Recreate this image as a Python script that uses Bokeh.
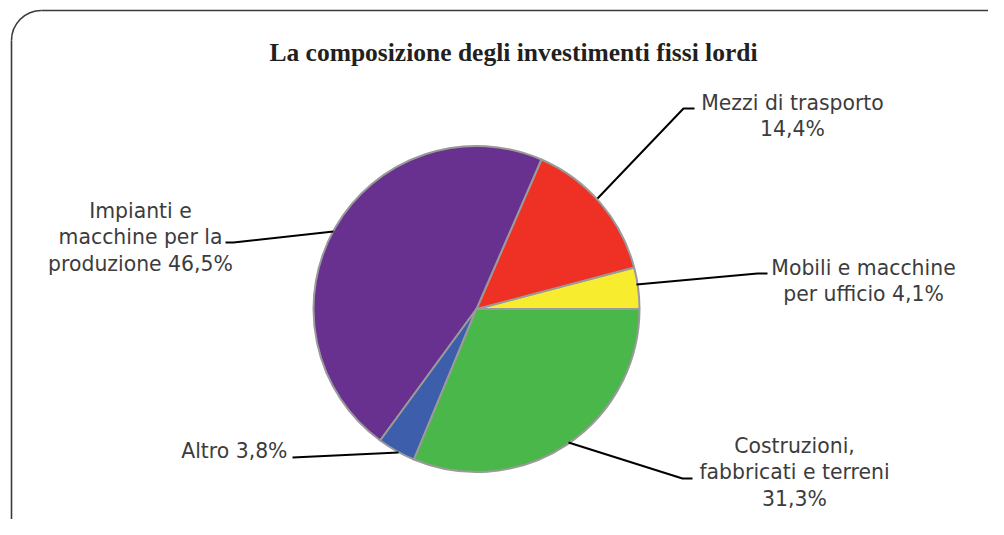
import math
from bokeh.plotting import figure
from bokeh.models import Range1d, ColumnDataSource
from bokeh.core.properties import value
from bokeh.embed import file_html
from bokeh.resources import INLINE

# ---- data (anticlockwise from 3 o'clock) ----
categories = ["Mobili e macchine per ufficio", "Mezzi di trasporto",
              "Impianti e macchine per la produzione", "Altro",
              "Costruzioni, fabbricati e terreni"]
shares = [4.1, 14.4, 46.5, 3.8, 31.3]
colors = ["#f7ec2d", "#ee3124", "#68308f", "#3c5eab", "#49b749"]
label_lines = [
    ["Mobili e macchine", "per ufficio 4,1%"],
    ["Mezzi di trasporto", "14,4%"],
    ["Impianti e", "macchine per la", "produzione 46,5%"],
    ["Altro 3,8%"],
    ["Costruzioni,", "fabbricati e terreni", "31,3%"],
]
title_text = "La composizione degli investimenti fissi lordi"

W, H = 988, 519
def Y(ypix):  # picture pixel row -> data y (up)
    return H - ypix

p = figure(width=W, height=H, output_backend="svg", toolbar_location=None,
           x_range=Range1d(0, W), y_range=Range1d(0, H),
           min_border=0, outline_line_color=None)
p.axis.visible = False
p.grid.visible = False
p.background_fill_color = "white"

# ---- rounded frame (cut at right / bottom) ----
fc = "#3a3a3a"
r0 = 30
cx0, cy0 = 11 + r0, 10 + r0
p.segment(x0=[cx0], y0=[Y(10)], x1=[1010], y1=[Y(10)], line_color=fc, line_width=1.6)
p.segment(x0=[11], y0=[Y(cy0)], x1=[11], y1=[Y(545)], line_color=fc, line_width=1.6)
p.arc(x=[cx0], y=[Y(cy0)], radius=r0, start_angle=math.pi / 2, end_angle=math.pi,
      line_color=fc, line_width=1.6)

# ---- pie ----
pcx, pcy, pr = 476, Y(308.5), 163
total = sum(shares)
starts, ends = [], []
acc = 0.0
for s in shares:
    starts.append(acc / total * 2 * math.pi)
    acc += s
    ends.append(acc / total * 2 * math.pi)
src = ColumnDataSource(dict(start=starts, end=ends, color=colors, cat=categories))
p.wedge(x=pcx, y=pcy, radius=pr, start_angle="start", end_angle="end",
        fill_color="color", line_color="#9a9a9a", line_width=2, source=src)

# ---- leader lines (from pie edge to labels) ----
leaders = [
    [(636, 284), (757, 273), (767, 273)],
    [(597, 198), (683, 108), (694, 108)],
    [(333, 231), (233, 242), (225, 242)],
    [(398, 452), (292, 457)],
    [(568, 442), (682, 478), (692, 478)],
]
for pts in leaders:
    p.line(x=[q[0] for q in pts], y=[Y(q[1]) for q in pts], line_color="black",
           line_width=2)

# ---- labels ----
label_pos = [  # (x, first line center y, align)
    (863, 267, "center"),
    (792, 102, "center"),
    (140, 210, "center"),
    (287, 450, "right"),
    (794, 445, "center"),
]
line_h = 26.5
for lines, (lx, ly, al) in zip(label_lines, label_pos):
    xs = [lx] * len(lines)
    ys = [Y(ly + i * line_h) for i in range(len(lines))]
    p.text(x=xs, y=ys, text=lines, text_align=al, text_baseline="middle",
           text_font=value("DejaVu Sans"), text_font_size="20.4px", text_color="#3c3c3c")

# ---- title ----
p.text(x=[513], y=[Y(52)], text=[title_text], text_align="center",
       text_baseline="middle", text_font=value("Liberation Serif"),
       text_font_style="bold", text_font_size="25.5px", text_color="#231f20")

open("out.html", "w").write(file_html(p, INLINE))
